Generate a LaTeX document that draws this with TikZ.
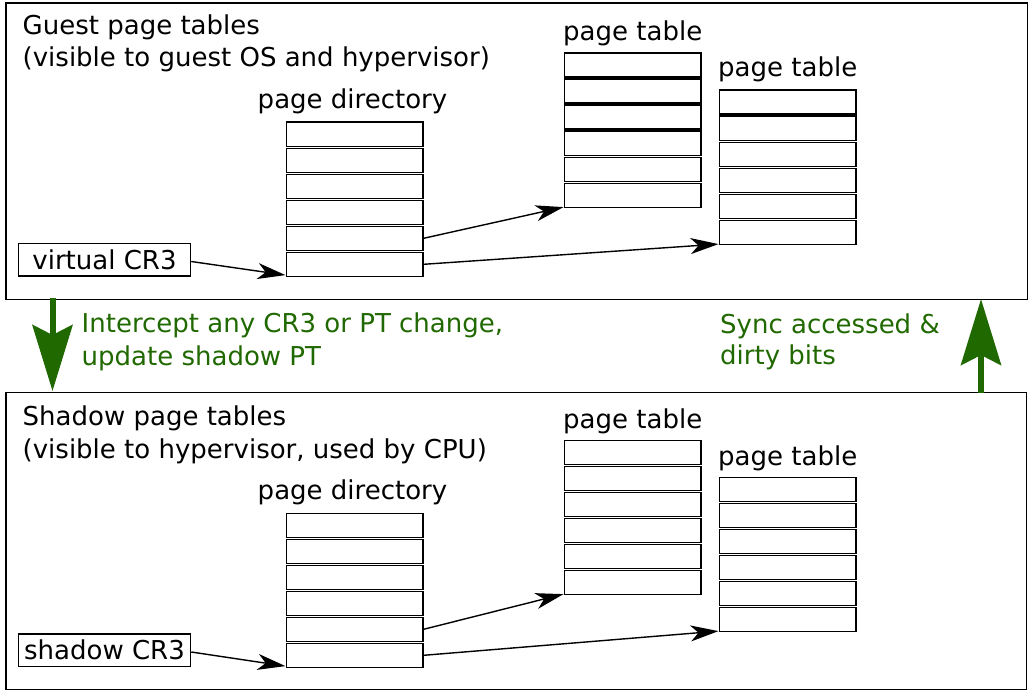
\documentclass[tikz,border=0pt]{standalone}
\usepackage{fontspec}
\setmainfont{DejaVu Sans}
\usetikzlibrary{arrows.meta,calc}
\definecolor{grn}{RGB}{32,104,0}
\begin{document}
\begin{tikzpicture}[x=1pt,y=-1pt,
  every node/.style={font=\fontsize{26}{31}\selectfont},
  frame/.style={draw=black,line width=1.5pt},
  cell/.style={draw=black,line width=1.6pt,minimum width=136.5pt,minimum height=24pt,inner sep=0pt,anchor=north west},
  crbox/.style={draw=black,line width=1.5pt,minimum width=172pt,minimum height=32.5pt,inner sep=0pt},
  lbl/.style={anchor=base west,inner sep=0pt},
  ptr/.style={line width=1.4pt,-{Stealth[length=28pt,width=16pt,inset=8pt]}},
  bigarrow/.style={draw=grn,line width=6pt,-{Stealth[length=66pt,width=40pt,inset=10pt]}},
  gtext/.style={anchor=base west,inner sep=0pt,text=grn}]
\useasboundingbox (0,0) rectangle (1030,690);
% frames
\node[frame,anchor=north west,minimum width=1021.5pt,minimum height=296pt,inner sep=0pt] (gframe) at (5,2.5) {};
\node[frame,anchor=north west,minimum width=1020.5pt,minimum height=297pt,inner sep=0pt] (sframe) at (5,391.5) {};
% ---------- guest ----------
\node[lbl] (gt1) at (22.5,35) {Guest page tables};
\node[lbl] (gt2) at (22.5,67) {(visible to guest OS and hypervisor)};
\node[anchor=base,inner sep=0pt] (gdl) at (352.5,109) {page directory};
\foreach \i in {1,...,6} {
  \node[cell] (gd\i) at (285.5,{121.5+(\i-1)*26}) {};
}
\node[lbl] (gal) at (563,41) {page table};
\foreach \i in {1,...,6} {
  \node[cell] (ga\i) at (563.5,{52.5+(\i-1)*26}) {};
}
\node[lbl] (gbl) at (718,77) {page table};
\foreach \i in {1,...,6} {
  \node[cell] (gb\i) at (718.5,{89.5+(\i-1)*26}) {};
}
\node[crbox] (gcr) at (104.5,259.5) {virtual CR3};
\draw[ptr] ($(gcr.east)+(0,2)$) -- ($(gd6.south west)+(0,-2)$);
\draw[ptr] (gd5.east) -- ($(ga6.south west)+(0,-1)$);
\draw[ptr] (gd6.east) -- ($(gb6.south west)+(0,-1)$);
% ---------- shadow ----------
\node[lbl] (st1) at (22.5,425) {Shadow page tables};
\node[lbl] (st2) at (22.5,458) {(visible to hypervisor, used by CPU)};
\node[anchor=base,inner sep=0pt] (sdl) at (352.5,499) {page directory};
\foreach \i in {1,...,6} {
  \node[cell] (sd\i) at (285.5,{512.5+(\i-1)*26}) {};
}
\node[lbl] (sal) at (563,428) {page table};
\foreach \i in {1,...,6} {
  \node[cell] (sa\i) at (563.5,{439.5+(\i-1)*26}) {};
}
\node[lbl] (sbl) at (718,465) {page table};
\foreach \i in {1,...,6} {
  \node[cell] (sb\i) at (718.5,{476.5+(\i-1)*26}) {};
}
\node[crbox] (scr) at (104.5,650) {shadow CR3};
\draw[ptr] ($(scr.east)+(0,2)$) -- ($(sd6.south west)+(0,-2)$);
\draw[ptr] (sd5.east) -- ($(sa6.south west)+(0,-1)$);
\draw[ptr] (sd6.east) -- ($(sb6.south west)+(0,-1)$);
% ---------- green arrows ----------
\coordinate (dtop) at (52.5,298);
\coordinate (dbot) at (52.5,391);
\draw[bigarrow] (dtop) -- (dbot);
\coordinate (ubot) at (981,393);
\coordinate (utop) at (981,299);
\draw[bigarrow] (ubot) -- (utop);
\node[gtext] (i1) at (81.5,332) {Intercept any CR3 or PT change,};
\node[gtext] (i2) at (81.5,365) {update shadow PT};
\node[gtext] (s1) at (720,333) {Sync accessed \&};
\node[gtext] (s2) at (720,364) {dirty bits};
\end{tikzpicture}
\end{document}
